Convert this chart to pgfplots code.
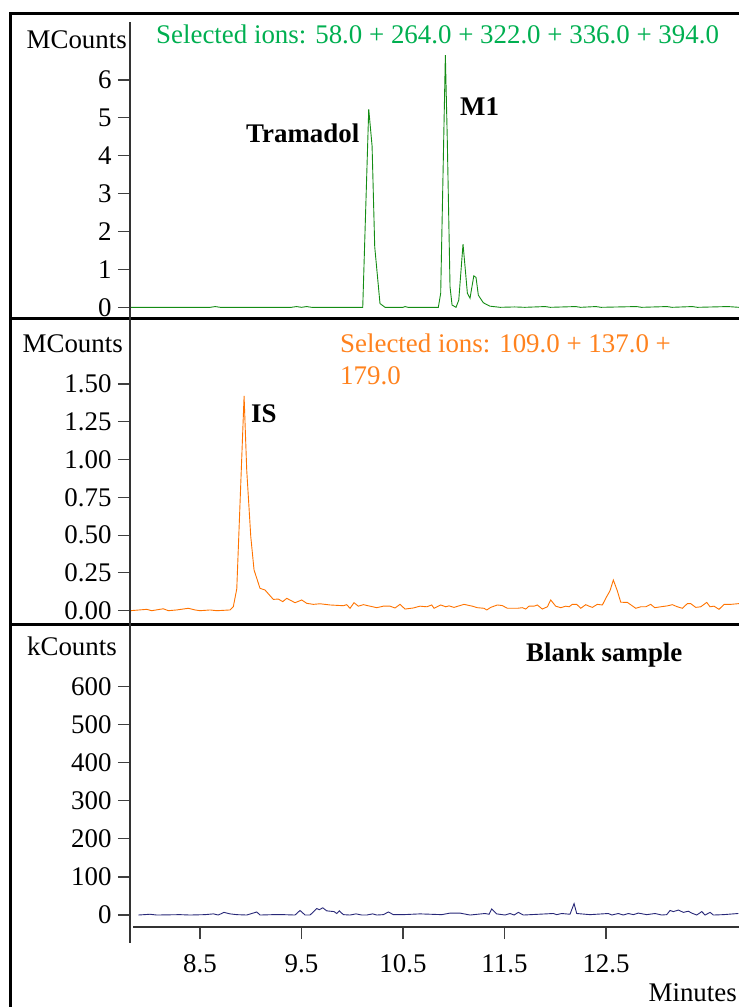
\documentclass[border=0pt]{standalone}
\usepackage{fontspec}
\setmainfont{Liberation Serif}
\usepackage{pgfplots}
\pgfplotsset{compat=1.18}

\definecolor{trgreen}{RGB}{20,140,20}
\definecolor{ttlgreen}{RGB}{0,175,80}
\definecolor{trorange}{RGB}{255,115,0}
\definecolor{ttlorange}{RGB}{255,130,30}
\definecolor{trblue}{RGB}{40,40,120}

\newcommand{\lbl}{\rmfamily\fontsize{27}{32}\selectfont}

\pgfplotsset{
  panel/.style={
    scale only axis, width=609bp, xmin=7.81, xmax=13.81,
    axis line style={draw=none},
    tick align=outside, ytick pos=left, xtick pos=bottom,
    major tick length=12bp,
    tick style={black!75, line width=1.1bp},
    tick label style={font=\lbl},
    /pgf/number format/assume math mode=true,
    yticklabel style={xshift=-3bp},
    anchor=south west,
  },
}

\begin{document}
\begin{tikzpicture}
\useasboundingbox (0bp,0bp) rectangle (739bp,-1007bp);

% top panel: tramadol + M1
\begin{axis}[panel, at={(130bp,-318bp)}, height=306bp,
  ymin=-0.282, ymax=7.796, ytick={0,...,6}, xtick=\empty]
\addplot[trgreen, line width=0.9bp] coordinates {
(7.81,0) (8.60,0) (8.65,0.02) (8.70,0) (9.40,0) (9.45,0.02) (9.50,0)
(9.55,0.02) (9.60,0) (10.103,0) (10.162,5.23) (10.195,4.26) (10.221,1.60)
(10.273,0.10) (10.323,0) (10.50,0) (10.52,0.02) (10.55,0) (10.848,0)
(10.871,0.37) (10.917,6.66) (10.936,4.42) (10.963,0.54) (10.983,0.06)
(11.022,0) (11.049,0.19) (11.091,1.67) (11.111,1.07) (11.134,0.37)
(11.160,0.24) (11.197,0.83) (11.219,0.79) (11.242,0.32) (11.291,0.12)
(11.357,0.03) (11.456,0) (11.60,0.01) (11.70,0) (11.90,0.02) (11.95,0)
(12.20,0.02) (12.25,0) (12.40,0.02) (12.45,0) (12.80,0.02) (12.85,0)
(13.10,0.02) (13.15,0) (13.35,0.02) (13.40,0) (13.70,0.02) (13.81,0)
};
\end{axis}

% middle panel: IS
\begin{axis}[panel, at={(130bp,-624bp)}, height=306bp,
  ymin=-0.088, ymax=1.937, ytick={0,0.25,...,1.5}, xtick=\empty,
  yticklabel style={/pgf/number format/fixed,
    /pgf/number format/precision=2, /pgf/number format/fixed zerofill}]
\addplot[trorange, line width=0.9bp] coordinates {
(7.810,0.000)(7.975,0.009)(8.024,0.000)(8.138,0.013)(8.188,0.000)(8.270,0.005)
(8.385,0.016)(8.451,0.005)(8.500,0.000)(8.599,0.005)(8.665,0.000)(8.796,0.005)
(8.828,0.027)(8.862,0.145)(8.894,0.710)(8.934,1.421)(8.960,0.930)(9.000,0.490)
(9.032,0.270)(9.091,0.148)(9.140,0.137)(9.222,0.075)(9.271,0.077)(9.315,0.060)
(9.354,0.082)(9.436,0.053)(9.502,0.071)(9.551,0.049)(9.616,0.042)(9.682,0.046)
(9.781,0.038)(9.912,0.033)(9.945,0.040)(9.978,0.016)(10.017,0.053)(10.060,0.030)
(10.109,0.040)(10.241,0.020)(10.306,0.030)(10.372,0.030)(10.421,0.018)(10.470,0.042)
(10.520,0.011)(10.601,0.018)(10.667,0.030)(10.734,0.026)(10.783,0.038)(10.805,0.016)
(10.871,0.038)(10.921,0.026)(10.953,0.032)(11.002,0.022)(11.101,0.042)(11.183,0.030)
(11.232,0.020)(11.298,0.016)(11.325,0.005)(11.364,0.022)(11.429,0.038)(11.478,0.034)
(11.528,0.016)(11.626,0.016)(11.675,0.020)(11.709,0.011)(11.741,0.030)(11.791,0.030)
(11.823,0.038)(11.872,0.011)(11.922,0.026)(11.955,0.071)(12.004,0.030)(12.054,0.020)
(12.103,0.030)(12.136,0.026)(12.168,0.042)(12.211,0.042)(12.251,0.016)(12.300,0.040)
(12.333,0.030)(12.365,0.022)(12.414,0.042)(12.464,0.038)(12.497,0.082)(12.539,0.132)
(12.572,0.203)(12.611,0.132)(12.645,0.056)(12.710,0.055)(12.793,0.016)(12.842,0.026)
(12.891,0.026)(12.940,0.042)(12.980,0.020)(13.039,0.026)(13.104,0.032)(13.153,0.040)
(13.203,0.026)(13.252,0.016)(13.301,0.047)(13.334,0.047)(13.384,0.022)(13.433,0.026)
(13.492,0.055)(13.525,0.026)(13.564,0.030)(13.613,0.009)(13.663,0.042)(13.729,0.042)
(13.810,0.047)
};
\end{axis}

% bottom panel: blank sample
\begin{axis}[panel, at={(130bp,-927bp)}, height=303bp,
  ymin=-31.5, ymax=764.8, ytick={0,100,...,600},
  xtick={8.5,9.5,10.5,11.5,12.5},
  xticklabel style={yshift=-12bp, /pgf/number format/fixed,
    /pgf/number format/precision=1, /pgf/number format/fixed zerofill}]
\addplot[trblue, line width=0.9bp] coordinates {
(7.892,0)(8.007,2)(8.073,0)(8.303,1)(8.401,0)(8.549,1)(8.631,3)(8.680,0)
(8.736,7)(8.796,3)(8.862,1)(8.960,0)(9.059,8)(9.091,0)(9.222,1)(9.321,1)
(9.436,0)(9.485,12)(9.535,0)(9.584,0)(9.650,17)(9.676,14)(9.709,19)(9.748,11)
(9.820,9)(9.847,4)(9.872,11)(9.912,1)(9.978,0)(10.037,3)(10.093,0)(10.142,0)
(10.201,3)(10.241,0)(10.306,1)(10.356,8)(10.405,1)(10.503,1)(10.667,3)(10.881,1)
(10.963,5)(11.062,5)(11.160,0)(11.308,4)(11.347,2)(11.374,16)(11.423,3)(11.505,0)
(11.554,4)(11.594,0)(11.636,7)(11.685,0)(11.981,4)(12.014,1)(12.063,4)(12.145,2)
(12.185,30)(12.211,4)(12.342,1)(12.523,4)(12.556,0)(12.621,4)(12.670,0)(12.720,4)
(12.769,1)(12.818,5)(12.901,1)(12.983,4)(13.049,0)(13.098,1)(13.131,12)(13.163,9)
(13.213,13)(13.262,7)(13.311,10)(13.345,5)(13.394,0)(13.443,9)(13.476,0)(13.525,7)
(13.558,0)(13.656,1)(13.803,4)
};
\end{axis}

% frame and axis lines
\draw[line width=3bp] (10bp,-1007bp) -- (10bp,-13bp) -- (739bp,-13bp);
\draw[line width=3bp] (10bp,-318bp) -- (739bp,-318bp);
\draw[line width=3bp] (10bp,-624bp) -- (739bp,-624bp);
\draw[black!80, line width=1.3bp] (130bp,-22bp) -- (130bp,-943bp);
\draw[black!80, line width=1.3bp] (133bp,-927bp) -- (739bp,-927bp);

% texts
\node[anchor=base east, inner sep=0pt, font=\lbl] at (127bp,-48bp) {MCounts};
\node[anchor=base east, inner sep=0pt, font=\lbl] at (123bp,-352bp) {MCounts};
\node[anchor=base east, inner sep=0pt, font=\lbl] at (117bp,-655bp) {kCounts};
\node[anchor=base west, inner sep=0pt, font=\lbl, text=ttlgreen] at (156bp,-43bp)
  {Selected ions: 58.0 + 264.0 + 322.0 + 336.0 + 394.0};
\node[anchor=base west, inner sep=0pt, font=\lbl, text=ttlorange] at (340bp,-352bp)
  {Selected ions: 109.0 + 137.0 +};
\node[anchor=base west, inner sep=0pt, font=\lbl, text=ttlorange] at (340bp,-384bp)
  {179.0};
\node[anchor=base west, inner sep=0pt, font=\lbl\bfseries] at (246bp,-142bp) {Tramadol};
\node[anchor=base west, inner sep=0pt, font=\lbl\bfseries] at (460bp,-115bp) {M1};
\node[anchor=base west, inner sep=0pt, font=\lbl\bfseries] at (251bp,-422bp) {IS};
\node[anchor=base west, inner sep=0pt, font=\lbl\bfseries] at (526bp,-661bp) {Blank sample};
\node[anchor=base east, inner sep=0pt, font=\lbl] at (737bp,-1001bp) {Minutes};
\end{tikzpicture}
\end{document}
